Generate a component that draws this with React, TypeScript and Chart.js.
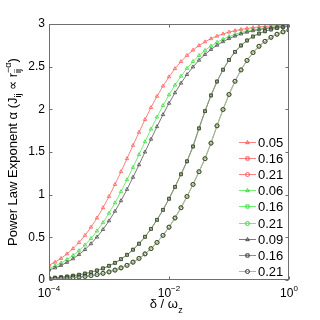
import React, { useEffect, useRef } from "react";
import { Chart, registerables } from "chart.js";

Chart.register(...registerables);

// log10 of delta / omega_z sample positions
const logDelta = [
  -4.0, -3.9, -3.8, -3.7, -3.6, -3.5, -3.4, -3.3, -3.2, -3.1,
  -3.0, -2.9, -2.8, -2.7, -2.6, -2.5, -2.4, -2.3, -2.2, -2.1,
  -2.0, -1.9, -1.8, -1.7, -1.6, -1.5, -1.4, -1.3, -1.2, -1.1,
  -1.0, -0.9, -0.8, -0.7, -0.6, -0.5, -0.4, -0.3, -0.2, -0.1, 0.0,
];

// alpha values
const alphaRed005 = [
  0.172, 0.209, 0.253, 0.306, 0.368, 0.44, 0.523, 0.619, 0.727, 0.847,
  0.979, 1.12, 1.269, 1.422, 1.578, 1.731, 1.88, 2.021, 2.153, 2.273,
  2.381, 2.477, 2.56, 2.632, 2.694, 2.747, 2.791, 2.828, 2.858, 2.884,
  2.905, 2.922, 2.937, 2.948, 2.958, 2.966, 2.972, 2.977, 2.981, 2.985, 2.988,
];
const alphaGreen006 = [
  0.136, 0.165, 0.199, 0.24, 0.288, 0.344, 0.41, 0.486, 0.574, 0.672,
  0.783, 0.904, 1.035, 1.175, 1.32, 1.47, 1.62, 1.768, 1.91, 2.045,
  2.17, 2.285, 2.388, 2.48, 2.561, 2.631, 2.691, 2.742, 2.786, 2.822,
  2.853, 2.879, 2.9, 2.918, 2.932, 2.944, 2.954, 2.962, 2.969, 2.975, 2.979,
];
const alphaGray009 = [
  0.117, 0.142, 0.171, 0.207, 0.249, 0.298, 0.357, 0.425, 0.503, 0.592,
  0.693, 0.806, 0.929, 1.062, 1.204, 1.35, 1.5, 1.65, 1.797, 1.938,
  2.071, 2.194, 2.307, 2.408, 2.497, 2.576, 2.643, 2.702, 2.751, 2.793,
  2.829, 2.858, 2.883, 2.904, 2.921, 2.935, 2.946, 2.956, 2.964, 2.97, 2.976,
];
const alpha016 = [
  0.022, 0.027, 0.033, 0.041, 0.05, 0.061, 0.075, 0.091, 0.112, 0.136,
  0.166, 0.201, 0.244, 0.295, 0.355, 0.425, 0.506, 0.599, 0.705, 0.822,
  0.952, 1.091, 1.239, 1.391, 1.565, 1.777, 1.979, 2.163, 2.326, 2.464,
  2.579, 2.673, 2.748, 2.807, 2.853, 2.888, 2.915, 2.936, 2.952, 2.964, 2.973,
];
const alpha021 = [
  0.012, 0.015, 0.019, 0.023, 0.028, 0.034, 0.042, 0.052, 0.064, 0.078,
  0.095, 0.116, 0.142, 0.172, 0.209, 0.253, 0.306, 0.368, 0.44, 0.523,
  0.619, 0.727, 0.847, 0.979, 1.12, 1.269, 1.422, 1.604, 1.807, 1.998,
  2.174, 2.329, 2.462, 2.573, 2.665, 2.739, 2.797, 2.844, 2.88, 2.908, 2.93,
];

const legendLabels = ["0.05", "0.16", "0.21", "0.06", "0.16", "0.21", "0.09", "0.16", "0.21"];
const xTickExponents = [-4, -2, 0];
const yTickValues = [0, 0.5, 1, 1.5, 2, 2.5, 3];

const FONT = "'Liberation Sans', Arial, Helvetica, sans-serif";

type Series = { values: number[]; line: string; marker: string; style: "triangle" | "rect" | "circle" };

const seriesList: Series[] = [
  { values: alphaRed005, line: "#ff8080", marker: "#ff5a5a", style: "triangle" },
  { values: alpha016, line: "#ff8080", marker: "#ff5a5a", style: "rect" },
  { values: alpha021, line: "#ff8080", marker: "#ff5a5a", style: "circle" },
  { values: alphaGreen006, line: "#70f070", marker: "#3ed83e", style: "triangle" },
  { values: alpha016, line: "#70f070", marker: "#3ed83e", style: "rect" },
  { values: alpha021, line: "#70f070", marker: "#3ed83e", style: "circle" },
  { values: alphaGray009, line: "#7a7a7a", marker: "#4a4a4a", style: "triangle" },
  { values: alpha016, line: "#8c8c8c", marker: "#3a3a3a", style: "rect" },
  { values: alpha021, line: "#b0b0b0", marker: "#333333", style: "circle" },
];

function drawMarker(ctx: CanvasRenderingContext2D, style: string, x: number, y: number, r: number) {
  ctx.beginPath();
  if (style === "triangle") {
    ctx.moveTo(x, y - r);
    ctx.lineTo(x + r * 0.9, y + r * 0.6);
    ctx.lineTo(x - r * 0.9, y + r * 0.6);
    ctx.closePath();
  } else if (style === "rect") {
    ctx.rect(x - r * 0.8, y - r * 0.8, r * 1.6, r * 1.6);
  } else {
    ctx.arc(x, y, r, 0, Math.PI * 2);
  }
  ctx.stroke();
}

const decorPlugin = {
  id: "decor",
  afterDraw(chart: any) {
    const ctx: CanvasRenderingContext2D = chart.ctx;
    const a = chart.chartArea;
    const xs = chart.scales.x;
    const ys = chart.scales.y;
    ctx.save();
    // frame
    const L = Math.round(a.left) + 0.5;
    const R = Math.round(a.right) - 0.5;
    const T = Math.round(a.top) + 0.5;
    const B = Math.round(a.bottom) - 0.5;
    ctx.strokeStyle = "#6e6e6e";
    ctx.lineWidth = 1;
    ctx.strokeRect(L, T, R - L, B - T);
    // inward ticks
    ctx.beginPath();
    xTickExponents.forEach((e) => {
      const px = Math.round(xs.getPixelForValue(Math.pow(10, e))) + 0.5;
      ctx.moveTo(px, B);
      ctx.lineTo(px, B - 3);
      ctx.moveTo(px, T);
      ctx.lineTo(px, T + 3);
    });
    yTickValues.forEach((v) => {
      const py = Math.round(ys.getPixelForValue(v)) + 0.5;
      ctx.moveTo(L, py);
      ctx.lineTo(L + 3, py);
      ctx.moveTo(R, py);
      ctx.lineTo(R - 3, py);
    });
    ctx.stroke();

    // x tick labels with superscripts
    ctx.fillStyle = "#000";
    ctx.textBaseline = "alphabetic";
    ctx.textAlign = "left";
    xTickExponents.forEach((e) => {
      const px = xs.getPixelForValue(Math.pow(10, e));
      const base = "10";
      const sup = e === 0 ? "0" : "\u2212" + Math.abs(e);
      ctx.font = "12px " + FONT;
      const w1 = ctx.measureText(base).width;
      ctx.font = "8px " + FONT;
      const w2 = ctx.measureText(sup).width;
      const start = px - (w1 + w2) / 2;
      ctx.font = "12px " + FONT;
      ctx.fillText(base, start, a.bottom + 17);
      ctx.font = "8px " + FONT;
      ctx.fillText(sup, start + w1, a.bottom + 11);
    });

    // x title: δ / ω_z
    {
      ctx.font = "13px " + FONT;
      const main = "\u03b4 / \u03c9";
      const wm = ctx.measureText(main).width;
      ctx.font = "9px " + FONT;
      const ws = ctx.measureText("z").width;
      const cx = (a.left + a.right) / 2 - 3;
      const start = cx - (wm + ws) / 2;
      ctx.font = "13px " + FONT;
      ctx.fillText(main, start, a.bottom + 28);
      ctx.font = "9px " + FONT;
      ctx.fillText("z", start + wm + 0.5, a.bottom + 33);
    }

    // y title: Power Law Exponent α (J_ij ∝ r_ij^−α)
    {
      const parts = [
        { t: "Power Law Exponent \u03b1 (J", s: 13, dy: 0 },
        { t: "ij", s: 9, dy: 4 },
        { t: " \u221d r", s: 13, dy: 0 },
        { t: "ij", s: 9, dy: 4, sup: "\u2212\u03b1" },
        { t: ")", s: 13, dy: 0 },
      ] as any[];
      const widths = parts.map((p) => {
        ctx.font = p.s + "px " + FONT;
        let w = ctx.measureText(p.t).width;
        if (p.sup) w = Math.max(w, ctx.measureText(p.sup).width);
        return w;
      });
      const total = widths.reduce((s, w) => s + w, 0);
      ctx.translate(17, (a.top + a.bottom) / 2);
      ctx.rotate(-Math.PI / 2);
      let x = -total / 2;
      parts.forEach((p, i) => {
        ctx.font = p.s + "px " + FONT;
        ctx.fillText(p.t, x, p.dy);
        if (p.sup) ctx.fillText(p.sup, x, -6);
        x += widths[i];
      });
      ctx.setTransform(1, 0, 0, 1, 0, 0);
    }

    // legend
    ctx.font = "13px " + FONT;
    ctx.textBaseline = "middle";
    seriesList.forEach((s, i) => {
      const y = Math.round(142 + i * 16.1) + 0.5;
      ctx.strokeStyle = s.line;
      ctx.lineWidth = 1;
      ctx.beginPath();
      ctx.moveTo(239, y);
      ctx.lineTo(256, y);
      ctx.stroke();
      ctx.strokeStyle = s.marker;
      drawMarker(ctx, s.style, 247.5, y, 2);
      ctx.fillStyle = "#000";
      ctx.fillText(legendLabels[i], 258, y + 1);
    });
    ctx.restore();
  },
};

export default function App() {
  const canvasRef = useRef<HTMLCanvasElement | null>(null);

  useEffect(() => {
    const canvas = canvasRef.current;
    if (!canvas) return;
    Chart.defaults.font.family = FONT;
    const datasets = seriesList.map((s, i) => ({
      label: legendLabels[i],
      data: logDelta.map((e, k) => ({ x: Math.pow(10, e), y: s.values[k] })),
      borderColor: s.line,
      borderWidth: 1,
      pointStyle: s.style,
      pointRadius: 2,
      pointBorderWidth: 0.8,
      pointBorderColor: s.marker,
      pointBackgroundColor: "rgba(0,0,0,0)",
      fill: false,
      tension: 0,
      order: seriesList.length - i,
    }));
    const chart = new Chart(canvas, {
      type: "line",
      data: { datasets },
      options: {
        animation: false,
        responsive: false,
        maintainAspectRatio: false,
        layout: { padding: { left: 0, right: 31, top: 24, bottom: 0 } },
        plugins: { legend: { display: false }, tooltip: { enabled: false } },
        scales: {
          x: {
            type: "logarithmic",
            min: 1e-4,
            max: 1,
            grid: { display: false },
            border: { display: false },
            ticks: { display: false },
            afterBuildTicks: (s: any) => {
              s.ticks = xTickExponents.map((e) => ({ value: Math.pow(10, e) }));
            },
            afterFit: (s: any) => {
              s.height = 40;
            },
          },
          y: {
            type: "linear",
            min: 0,
            max: 3,
            grid: { display: false, drawTicks: false },
            border: { display: false },
            ticks: {
              stepSize: 0.5,
              padding: 4,
              color: "#000",
              font: { size: 12, family: FONT },
              callback: (v: any) => String(v),
            },
            afterFit: (s: any) => {
              s.width = 49;
            },
          },
        },
      } as any,
      plugins: [decorPlugin],
    });
    return () => chart.destroy();
  }, []);

  return (
    <div style={{ position: "absolute", left: 0, top: 0, width: 320, height: 320, background: "#fff" }}>
      <canvas ref={canvasRef} width={320} height={320} style={{ width: 320, height: 320 }} />
    </div>
  );
}
